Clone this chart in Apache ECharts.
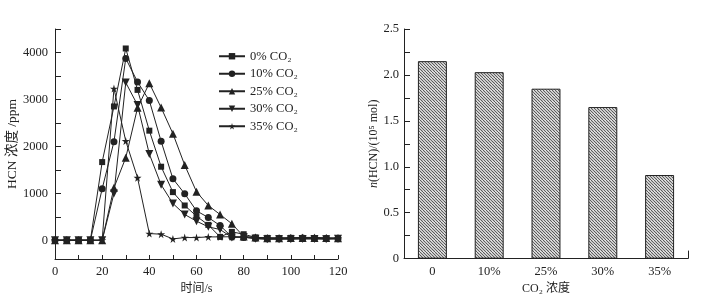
<!DOCTYPE html>
<html>
<head>
<meta charset="utf-8">
<script src="https://cdn.jsdelivr.net/npm/echarts@6/dist/echarts.min.js"></script>
<style>
  html, body { margin: 0; padding: 0; background: #fff; }
  #main { width: 709px; height: 300px; }
</style>
</head>
<body>
<div id="main"></div>
<script>
// 时间 (s)
var times = [0, 5, 10, 15, 20, 25, 30, 35, 40, 45, 50, 55, 60, 65, 70, 75, 80, 85, 90, 95, 100, 105, 110, 115, 120];
// HCN 浓度 (ppm)
var hcn0 = [0, 0, 0, 0, 1665, 2850, 4085, 3203, 2334, 1566, 1025, 740, 512, 327, 71, 178, 128, 60, 50, 45, 50, 40, 45, 40, 40];
var hcn10 = [0, 0, 0, 0, 1096, 2100, 3872, 3373, 2975, 2107, 1310, 989, 626, 484, 313, 70, 60, 40, 30, 30, 40, 45, 40, 35, 30];
var hcn25 = [0, 0, 0, 0, 0, 1117, 1758, 2820, 3345, 2825, 2270, 1601, 1032, 740, 548, 350, 80, 60, 40, 40, 50, 50, 50, 45, 40];
var hcn30 = [0, 0, 0, 0, 0, 996, 3359, 2880, 1836, 1181, 783, 548, 406, 285, 228, 60, 70, 30, 20, 20, 20, 25, 25, 20, 30];
var hcn35 = [0, 0, 0, 0, 0, 3231, 2114, 1331, 142, 128, 28, 57, 57, 71, 71, 75, 70, 60, 50, 50, 50, 60, 60, 50, 50];
var seriesNames = ['0% CO₂', '10% CO₂', '25% CO₂', '30% CO₂', '35% CO₂'];

// 右图
var co2Levels = ['0', '10%', '25%', '30%', '35%'];
var hcnTotal = [2.15, 2.03, 1.85, 1.65, 0.91];

var yTicksLeft = [0, 500, 1000, 1500, 2000, 2500, 3000, 3500, 4000, 4500];
var yLabelsLeft = [0, 1000, 2000, 3000, 4000];

var font = '"Liberation Serif", "Times New Roman", "Noto Sans CJK SC", serif';
var ink = '#222';

function pairs(arr) {
  return arr.map(function (v, i) { return [times[i], v]; });
}

// 斜线填充
function hatch() {
  var c = document.createElement('canvas');
  c.width = 6; c.height = 6;
  var g = c.getContext('2d');
  g.fillStyle = '#fff';
  g.fillRect(0, 0, 6, 6);
  g.strokeStyle = '#555';
  g.lineWidth = 1.1;
  for (var k = -6; k <= 6; k += 3) {
    g.beginPath();
    g.moveTo(k, 0);
    g.lineTo(k + 6, 6);
    g.stroke();
  }
  return c;
}

var star = 'path://M50,0 L61,35 L98,35 L68,57 L79,91 L50,70 L21,91 L32,57 L2,35 L39,35 Z';
var symbols = ['rect', 'circle', 'triangle', 'triangle', star];
var sizes = [6, 7, 8, 8, 8];
var rotates = [0, 0, 0, 180, 0];
var datas = [hcn0, hcn10, hcn25, hcn30, hcn35];

var lineSeries = datas.map(function (d, i) {
  return {
    name: seriesNames[i],
    type: 'line',
    xAxisIndex: 0,
    yAxisIndex: 0,
    data: pairs(d),
    symbol: symbols[i],
    symbolSize: sizes[i],
    symbolRotate: rotates[i],
    showAllSymbol: true,
    lineStyle: { color: ink, width: 1 },
    itemStyle: { color: ink, borderWidth: 0 },
    animation: false
  };
});

var myChart = echarts.init(document.getElementById('main'));

var option = {
  backgroundColor: '#fff',
  animation: false,
  textStyle: { fontFamily: font, color: ink },
  legend: {
    data: seriesNames,
    orient: 'vertical',
    left: 218,
    top: 50,
    itemWidth: 26,
    itemHeight: 8,
    itemGap: 5,
    padding: 0,
    textStyle: { fontFamily: font, fontSize: 12.5, color: ink }
  },
  grid: [
    { left: 55, top: 29, width: 283, height: 230 },
    { left: 404, top: 29, width: 284, height: 231 }
  ],
  xAxis: [
    {
      type: 'value',
      gridIndex: 0,
      min: 0,
      max: 120,
      interval: 10,
      name: '时间/s',
      nameLocation: 'middle',
      nameGap: 20,
      nameTextStyle: { fontFamily: font, fontSize: 12, color: ink },
      axisLine: { onZero: false, lineStyle: { color: ink } },
      axisTick: { show: true, inside: true, length: 4, lineStyle: { color: ink, width: 1 } },
      axisLabel: {
        margin: 6,
        fontSize: 12.5,
        color: ink,
        fontFamily: font,
        formatter: function (v) { return v % 20 === 0 ? String(v) : ''; }
      },
      splitLine: { show: false }
    },
    {
      type: 'category',
      gridIndex: 1,
      data: co2Levels,
      name: 'CO₂ 浓度',
      nameLocation: 'middle',
      nameGap: 20,
      nameTextStyle: { fontFamily: font, fontSize: 12, color: ink },
      axisLine: { lineStyle: { color: ink } },
      axisTick: { show: false },
      axisLabel: { margin: 7, fontSize: 12.5, color: ink, fontFamily: font },
      splitLine: { show: false }
    },
    {
      // 右端刻度
      type: 'value',
      gridIndex: 1,
      min: 0,
      max: 1,
      position: 'bottom',
      axisLine: { show: false },
      axisLabel: { show: false },
      axisTick: { show: true, inside: true, length: 8, customValues: [1], lineStyle: { color: ink, width: 1 } },
      splitLine: { show: false }
    }
  ],
  yAxis: [
    {
      type: 'value',
      gridIndex: 0,
      min: -400,
      max: 4500,
      name: 'HCN 浓度 /ppm',
      nameLocation: 'middle',
      nameGap: 30,
      nameTextStyle: { fontFamily: font, fontSize: 13.5, color: ink },
      axisLine: { show: true, lineStyle: { color: ink } },
      axisTick: { show: true, inside: true, length: 6, customValues: yTicksLeft, lineStyle: { color: ink, width: 1 } },
      axisLabel: {
        margin: 7, fontSize: 12.5, color: ink, fontFamily: font,
        customValues: yLabelsLeft,
        formatter: function (v) { return String(v); }
      },
      splitLine: { show: false }
    },
    {
      type: 'value',
      gridIndex: 1,
      min: 0,
      max: 2.5,
      interval: 0.25,
      name: '{i|n}(HCN)/(10⁵ mol)',
      nameLocation: 'middle',
      nameGap: 22,
      nameTextStyle: {
        fontFamily: font, fontSize: 12, color: ink,
        rich: { i: { fontStyle: 'italic', fontFamily: font, fontSize: 12, color: ink } }
      },
      axisLine: { show: true, lineStyle: { color: ink } },
      axisTick: { show: true, inside: true, length: 6, lineStyle: { color: ink, width: 1 } },
      axisLabel: {
        margin: 5,
        fontSize: 12.5,
        color: ink,
        fontFamily: font,
        formatter: function (v) {
          if (Math.abs(v * 2 - Math.round(v * 2)) > 1e-6) return '';
          return v === 0 ? '0' : v.toFixed(1);
        }
      },
      splitLine: { show: false }
    }
  ],
  series: lineSeries.concat([
    {
      type: 'bar',
      xAxisIndex: 1,
      yAxisIndex: 1,
      data: hcnTotal,
      barWidth: '51%',
      itemStyle: {
        color: { image: hatch(), repeat: 'repeat' },
        borderColor: ink,
        borderWidth: 1
      },
      animation: false
    }
  ])
};

myChart.setOption(option);
</script>
</body>
</html>
